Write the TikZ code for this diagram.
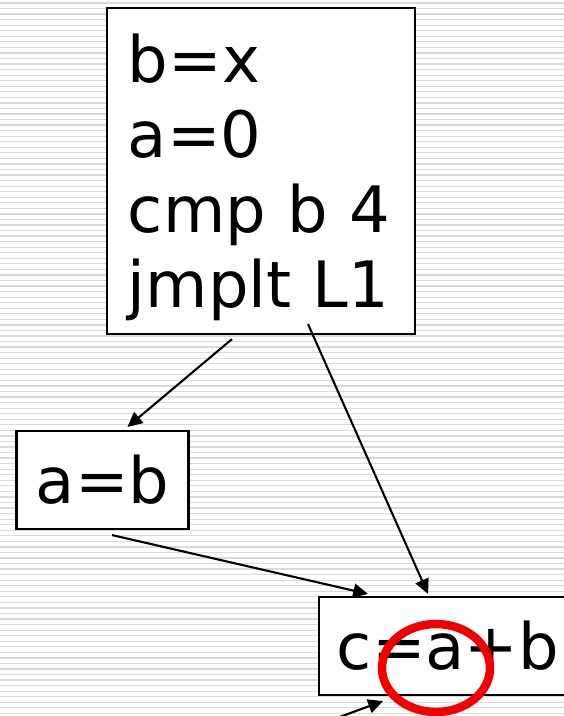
\documentclass[tikz,border=0pt]{standalone}
\usepackage{fontspec}
\setmainfont{DejaVu Sans}
\usepackage{tikz}
\usetikzlibrary{arrows.meta,calc}
\definecolor{ruling}{HTML}{DADADA}
\definecolor{ring}{HTML}{F20000}

\begin{document}
\begin{tikzpicture}[x=0.025cm,y=-0.025cm,
  box/.style={draw,line width=1.5pt,fill=white,inner sep=0pt,
              font=\fontsize{45.5}{53.35}\selectfont},
  arr/.style={-{Triangle[length=10.5pt,width=10pt]},line width=1.5pt}
]
\useasboundingbox (0,0) rectangle (564,716);
\fill[white] (0,0) rectangle (564,716);
\foreach \k in {0,...,130}
  \draw[ruling,line width=0.9pt] (0,{3+5.55*\k}) -- (564,{3+5.55*\k});

\node[box,text width=6.65cm,inner xsep=0.525cm,minimum height=8.15cm,align=left]
  (entry) at (261,171) {\rule{0pt}{1.53cm}b=x\\a=0\\cmp b 4\\jmplt L1};
\node[box,minimum width=4.3cm,minimum height=2.45cm] (assign) at (102.5,480) {a=b};
\node[box,minimum width=6.45cm,minimum height=2.45cm] (join) at (448,646) {c=a+b};
\coordinate (below) at (326,722);

\draw[arr] ($(entry.south)+(-29,4)$) -- ($(assign.north)+(25,-3)$);
\draw[arr] ($(entry.south)+(47,-11)$) -- ($(join.north)+(-20,-2)$);
\draw[arr] ($(assign.south)+(9.5,5)$) -- ($(join.north)+(-80,-2)$);
\draw[arr] (below) -- ($(join.south)+(-65,5)$);

\draw[ring,line width=6pt] (436,668) ellipse [x radius=54,y radius=44];
\end{tikzpicture}
\end{document}
